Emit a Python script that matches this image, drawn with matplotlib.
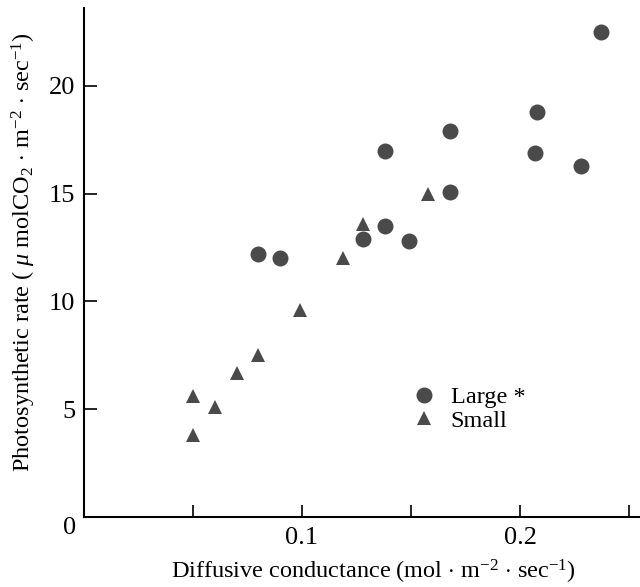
import matplotlib.pyplot as plt

plt.rcParams['font.family'] = 'Liberation Serif'
plt.rcParams['mathtext.fontset'] = 'custom'
plt.rcParams['mathtext.rm'] = 'Liberation Serif'
plt.rcParams['mathtext.it'] = 'Liberation Serif:italic'

# Large leaves (circles)
large_x = [0.080, 0.090, 0.128, 0.138, 0.138, 0.149, 0.168, 0.168, 0.207, 0.208, 0.228, 0.237]
large_y = [12.2, 12.0, 12.9, 13.5, 17.0, 12.8, 15.1, 17.9, 16.9, 18.8, 16.3, 22.5]

# Small leaves (triangles)
small_x = [0.050, 0.050, 0.060, 0.070, 0.080, 0.099, 0.119, 0.128, 0.158]
small_y = [3.8, 5.6, 5.1, 6.7, 7.5, 9.6, 12.0, 13.6, 15.0]

xticks = [0.05, 0.1, 0.15, 0.2, 0.25]
xticklabels = ['', '0.1', '', '0.2', '']
yticks = [5, 10, 15, 20]

col = '#4a4a4a'

fig = plt.figure(figsize=(6.4, 5.87), dpi=100)
ax = fig.add_axes([0.131, 0.119, 0.869, 0.867])

ax.plot(large_x, large_y, 'o', color=col, markersize=11.5, markeredgewidth=0, label='Large *')
ax.plot(small_x, small_y, '^', color=col, markersize=10.5, markeredgewidth=0, label='Small')

ax.set_xlim(0, 0.255)
ax.set_ylim(0, 23.6)
ax.set_xticks(xticks)
ax.set_xticklabels(xticklabels)
ax.set_yticks(yticks)

for s in ['top', 'right']:
    ax.spines[s].set_visible(False)
for s in ['left', 'bottom']:
    ax.spines[s].set_linewidth(1.5)

ax.tick_params(direction='in', length=9, width=1.2, labelsize=19)
ax.tick_params(axis='x', pad=7)
ax.tick_params(axis='y', pad=6)

ax.text(-0.0064, -0.5, '0', fontsize=19, ha='center', va='center', clip_on=False)

ax.set_xlabel(r'Diffusive conductance (mol $\cdot$ m$^{-2}$ $\cdot$ sec$^{-1}$)', fontsize=17.5)
ax.set_ylabel(r'Photosynthetic rate ( $\mathit{\mu}$ molCO$_2$ $\cdot$ m$^{-2}$ $\cdot$ sec$^{-1}$)', fontsize=17.5)
ax.xaxis.set_label_coords(0.52, -0.08)
ax.yaxis.set_label_coords(-0.083, 0.52)

ax.legend(loc='upper left', bbox_to_anchor=(0.546, 0.3), frameon=False, fontsize=17.5,
          handletextpad=0.5, labelspacing=0.05, handlelength=1.2)

fig.savefig('out.png', dpi=100)
